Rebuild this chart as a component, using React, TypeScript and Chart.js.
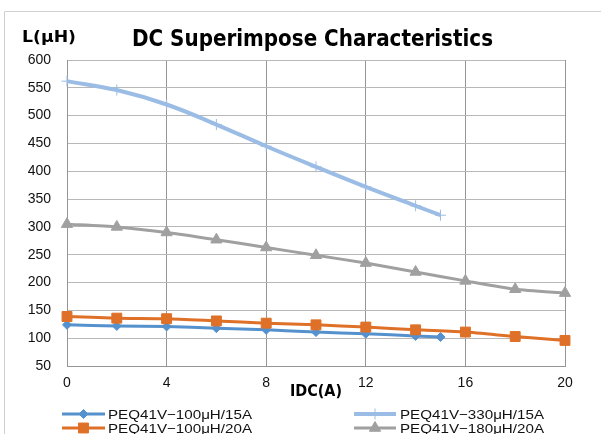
import React, { useEffect, useRef } from 'react';
import { Chart, registerables } from 'chart.js';
import { drawPoint } from 'chart.js/helpers';

Chart.register(...registerables);

// ---- data ----
const currents15 = [0, 2, 4, 6, 8, 10, 12, 14, 15];
const currents20 = [0, 2, 4, 6, 8, 10, 12, 14, 16, 18, 20];
const l100_15A = [124, 122, 121, 118, 115, 111, 108, 104, 102];
const l100_20A = [139, 136, 135, 131, 127, 124, 120, 115, 111, 103, 96];
const l330_15A = [562, 546, 520, 484, 445, 408, 372, 338, 321];
const l180_20A = [305, 300, 290, 277, 263, 249, 235, 219, 203, 188, 181];
const seriesNames = [
  'PEQ41V−100μH/15A',
  'PEQ41V−100μH/20A',
  'PEQ41V−330μH/15A',
  'PEQ41V−180μH/20A',
];
const xTicks = [0, 4, 8, 12, 16, 20];
const yTicks = [50, 100, 150, 200, 250, 300, 350, 400, 450, 500, 550, 600];
const chartTitle = 'DC Superimpose Characteristics';
const yTitle = 'L(μH)';
const xTitle = 'IDC(A)';

const FONT = '"Liberation Sans", Arial, sans-serif';
const BOLD_FONT = '"DejaVu Sans", "Liberation Sans", sans-serif';

function pts(xs: number[], ys: number[]) {
  return xs.map((x, i) => ({ x, y: ys[i] }));
}

function fitText(ctx: CanvasRenderingContext2D, text: string, x: number, y: number, width: number) {
  const w = ctx.measureText(text).width;
  ctx.save();
  ctx.translate(x, y);
  ctx.scale(width / w, 1);
  ctx.textAlign = 'left';
  ctx.textBaseline = 'alphabetic';
  ctx.fillText(text, 0, 0);
  ctx.restore();
}

const styles = [
  { color: '#5591CD', pointStyle: 'rectRot', radius: 4.5, lineWidth: 3, pbw: 1 },
  { color: '#DF7028', pointStyle: 'rect', radius: 7, lineWidth: 3, pbw: 1 },
  { color: '#9BBDE5', pointStyle: 'cross', radius: 5.5, lineWidth: 4, pbw: 1 },
  { color: '#A0A0A0', pointStyle: 'triangle', radius: 6.5, lineWidth: 3, pbw: 1 },
];

const legendPos = [
  { x0: 62, x1: 105, tx: 108, y: 414 },
  { x0: 62, x1: 105, tx: 108, y: 428 },
  { x0: 354, x1: 396, tx: 400, y: 414 },
  { x0: 354, x1: 396, tx: 400, y: 428 },
];

const decorPlugin = {
  id: 'decor',
  afterDraw(chart: any) {
    const ctx: CanvasRenderingContext2D = chart.ctx;
    ctx.save();
    // outer frame
    ctx.strokeStyle = '#d0d0d0';
    ctx.lineWidth = 1;
    ctx.beginPath();
    ctx.moveTo(4.5, 434);
    ctx.lineTo(4.5, 11.5);
    ctx.lineTo(601, 11.5);
    ctx.stroke();

    ctx.fillStyle = '#000';
    ctx.font = `bold 23px ${BOLD_FONT}`;
    fitText(ctx, chartTitle, 132, 46, 361);
    ctx.font = `bold 16px ${BOLD_FONT}`;
    fitText(ctx, yTitle, 22, 42, 54);
    ctx.font = `bold 16px ${BOLD_FONT}`;
    fitText(ctx, xTitle, 290, 396, 52);

    // legend
    ctx.font = `13px ${FONT}`;
    styles.forEach((s, i) => {
      const p = legendPos[i];
      ctx.strokeStyle = s.color;
      ctx.fillStyle = s.color;
      ctx.lineWidth = s.lineWidth;
      ctx.beginPath();
      ctx.moveTo(p.x0, p.y);
      ctx.lineTo(p.x1, p.y);
      ctx.stroke();
      ctx.lineWidth = s.pbw;
      drawPoint(ctx, { pointStyle: s.pointStyle as any, radius: s.radius, rotation: 0, borderWidth: s.pbw }, (p.x0 + p.x1) / 2, p.y);
      ctx.fillStyle = '#111';
      fitText(ctx, seriesNames[i], p.tx, p.y + 5, 144);
    });
    ctx.restore();
  },
};

export default function App() {
  const ref = useRef<HTMLCanvasElement>(null);
  useEffect(() => {
    if (!ref.current) return;
    const dataSets = [
      pts(currents15, l100_15A),
      pts(currents20, l100_20A),
      pts(currents15, l330_15A),
      pts(currents20, l180_20A),
    ];
    const chart = new Chart(ref.current, {
      type: 'line',
      data: {
        datasets: dataSets.map((d, i) => ({
          label: seriesNames[i],
          data: d,
          borderColor: styles[i].color,
          backgroundColor: styles[i].color,
          borderWidth: styles[i].lineWidth,
          pointStyle: styles[i].pointStyle as any,
          pointRadius: styles[i].radius,
          pointBorderWidth: styles[i].pbw,
          pointBorderColor: styles[i].color,
          pointBackgroundColor: styles[i].color,
          tension: i === 2 ? 0.4 : 0.2,
          clip: false as any,
          order: 4 - i,
        })),
      },
      options: {
        animation: false,
        responsive: false,
        layout: { padding: { left: 0, right: 36, top: 60, bottom: 0 } },
        plugins: { legend: { display: false }, title: { display: false }, tooltip: { enabled: false } },
        scales: {
          x: {
            type: 'linear',
            min: 0,
            max: 20,
            afterBuildTicks: (s: any) => { s.ticks = xTicks.map((v) => ({ value: v })); },
            afterFit: (s: any) => { s.height = 68; },
            grid: { color: '#959595', lineWidth: 1, drawTicks: false },
            border: { display: true, color: '#959595', width: 1 },
            ticks: { font: { family: FONT, size: 14 }, color: '#111', padding: 9, maxRotation: 0 },
          },
          y: {
            type: 'linear',
            min: 50,
            max: 600,
            afterBuildTicks: (s: any) => { s.ticks = yTicks.map((v) => ({ value: v })); },
            afterFit: (s: any) => { s.width = 67; },
            grid: { color: '#b8b8b8', lineWidth: 1, drawTicks: false },
            border: { display: true, color: '#959595', width: 1 },
            ticks: { font: { family: FONT, size: 14 }, color: '#111', padding: 16 },
          },
        },
      },
      plugins: [decorPlugin],
    });
    return () => chart.destroy();
  }, []);
  return (
    <div style={{ position: 'absolute', left: 0, top: 0, width: 601, height: 434, background: '#fff' }}>
      <canvas ref={ref} width={601} height={434} style={{ display: 'block' }} />
    </div>
  );
}
